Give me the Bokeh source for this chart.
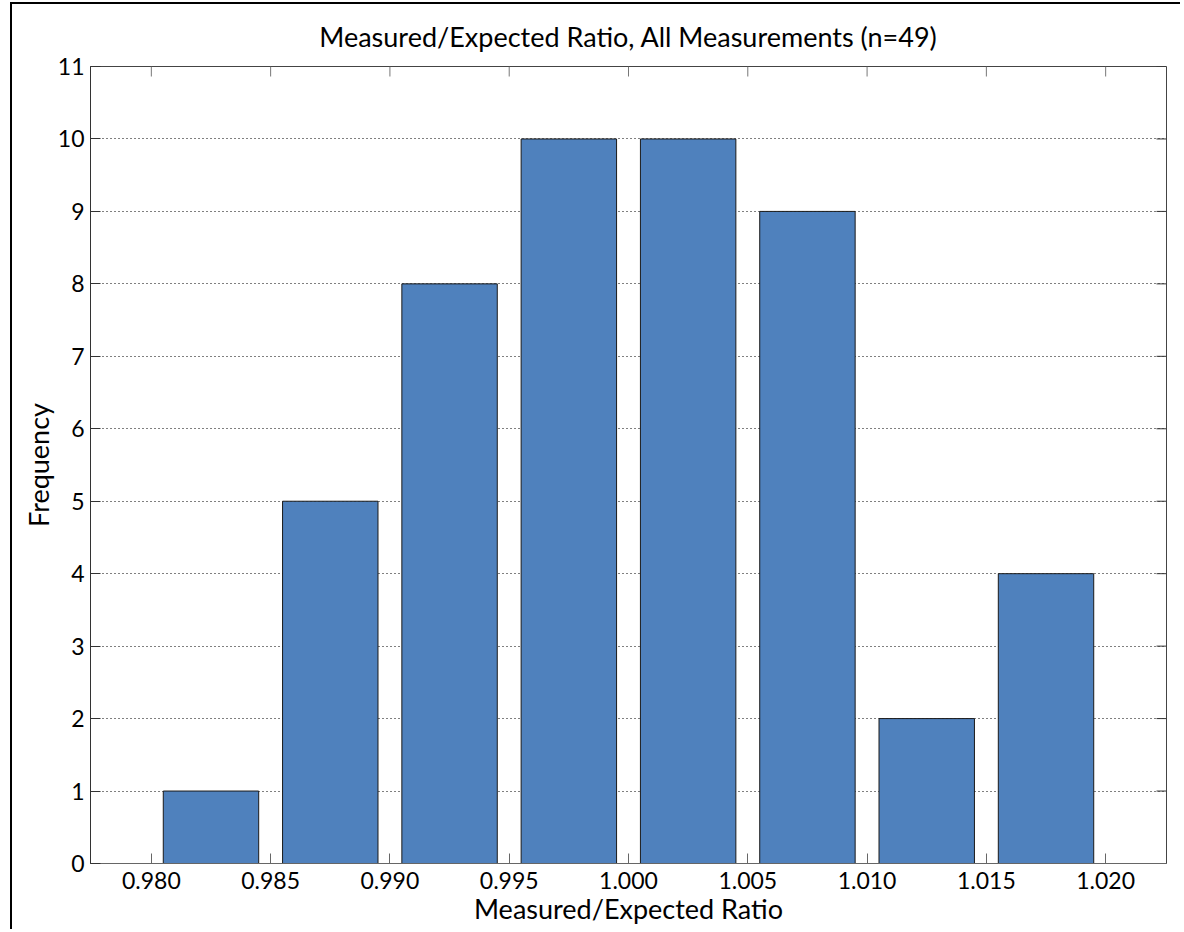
from bokeh.plotting import figure
from bokeh.models import LinearAxis, FixedTicker, Range1d, ColumnDataSource
from bokeh.embed import file_html
from bokeh.resources import INLINE

# ---- data ----
bin_centers = [0.9825, 0.9875, 0.9925, 0.9975, 1.0025, 1.0075, 1.0125, 1.0175]
counts = [1, 5, 8, 10, 10, 9, 2, 4]
x_ticks = [0.980, 0.985, 0.990, 0.995, 1.000, 1.005, 1.010, 1.015, 1.020]
x_tick_labels = ["0.980", "0.985", "0.990", "0.995", "1.000", "1.005", "1.010", "1.015", "1.020"]
y_ticks = [0, 1, 2, 3, 4, 5, 6, 7, 8, 9, 10, 11]
title_text = "Measured/Expected Ratio, All Measurements (n=49)"
x_label = "Measured/Expected Ratio"
y_label = "Frequency"

# ---- axis limits / styling ----
X_MIN, X_MAX = 0.97745, 1.02255
Y_MIN, Y_MAX = 0, 11
FONT = "Lato"
BAR_WIDTH = 0.004
FRAME_W, FRAME_H = 1076, 797     # plot-area size in px (used for tick lengths)
TICK_PX = 10

src = ColumnDataSource(dict(x=bin_centers, top=counts))

p = figure(width=1170, height=927, output_backend="svg", toolbar_location=None,
           x_range=Range1d(X_MIN, X_MAX), y_range=Range1d(Y_MIN, Y_MAX),
           min_border_left=78, min_border_right=16, min_border_top=62, min_border_bottom=68,
           x_axis_location=None, y_axis_location=None)
p.styles = {"margin-left": "10px", "margin-top": "2px",
            "border-left": "2px solid #000000", "border-top": "2px solid #000000"}
p.outline_line_color = "#444444"
p.outline_line_width = 1

p.title.text = title_text
p.title.text_font = FONT
p.title.text_font_size = "27px"
p.title.text_font_style = "normal"
p.title.text_color = "#000000"
p.title.align = "center"
p.title.standoff = 27

xt = FixedTicker(ticks=x_ticks)
yt = FixedTicker(ticks=y_ticks)
label_over = {t: l for t, l in zip(x_ticks, x_tick_labels)}

def style_axis(ax, color):
    ax.axis_line_color = color
    ax.axis_line_width = 1
    ax.major_tick_line_color = color
    ax.major_tick_in = TICK_PX
    ax.major_tick_out = 0
    ax.minor_tick_line_color = None
    ax.major_label_text_font = FONT
    ax.major_label_text_font_size = "23px"
    ax.major_label_text_color = "#000000"
    ax.axis_label_text_font = FONT
    ax.axis_label_text_font_size = "27px"
    ax.axis_label_text_font_style = "normal"
    ax.axis_label_text_color = "#000000"

xb = LinearAxis(ticker=xt, axis_label=x_label, major_label_overrides=label_over)
style_axis(xb, "#666666")
xb.major_label_standoff = 8
xb.axis_label_standoff = 0
p.add_layout(xb, "below")

yl = LinearAxis(ticker=yt, axis_label=y_label)
style_axis(yl, "#333333")
yl.major_label_standoff = 6
yl.axis_label_standoff = 0
p.add_layout(yl, "left")

# inward ticks on the top and right edges of the box
top_len = TICK_PX * (Y_MAX - Y_MIN) / FRAME_H
right_len = TICK_PX * (X_MAX - X_MIN) / FRAME_W
p.segment(x0=x_ticks, x1=x_ticks, y0=[Y_MAX] * len(x_ticks), y1=[Y_MAX - top_len] * len(x_ticks),
          line_color="#777777", line_width=1)
p.segment(x0=[X_MAX] * len(y_ticks), x1=[X_MAX - right_len] * len(y_ticks), y0=y_ticks, y1=y_ticks,
          line_color="#333333", line_width=1)

p.xgrid.grid_line_color = None
p.ygrid.ticker = yt
p.ygrid.grid_line_color = "#000000"
p.ygrid.grid_line_dash = "1 3"
p.ygrid.grid_line_width = 1

p.vbar(x="x", top="top", bottom=0, width=BAR_WIDTH, source=src,
       fill_color="#4F81BD", line_color="#1a1a1a", line_width=1)

open("out.html", "w").write(file_html(p, INLINE))
